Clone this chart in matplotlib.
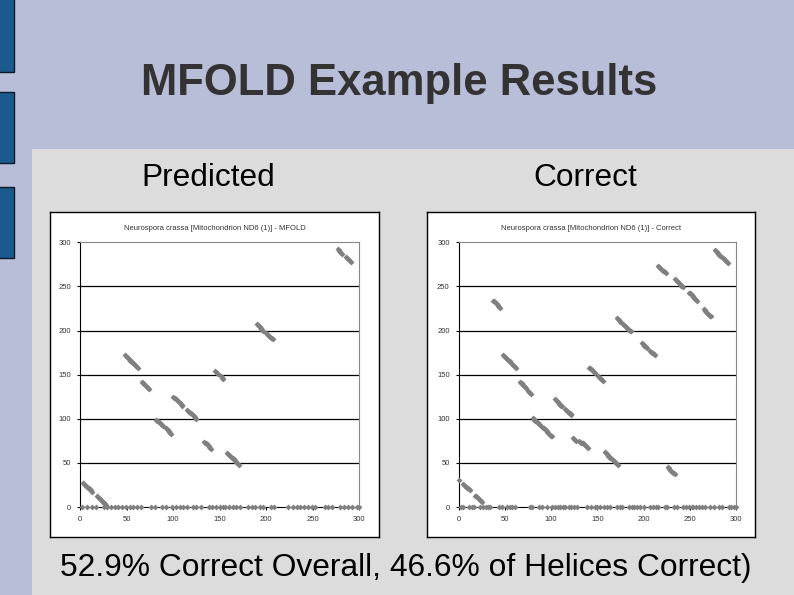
import matplotlib
matplotlib.use("Agg")
import matplotlib.pyplot as plt
from matplotlib.patches import Rectangle

plt.rcParams['font.family'] = ['Liberation Sans', 'DejaVu Sans']

W = 794
H = 595

# ---- data (position -> paired position) ----
pred_x = [3, 4, 5, 6, 7, 8, 9, 10, 11, 12, 13,
          18, 19, 20, 21, 22, 23, 24, 25, 26, 27, 28,
          48, 49, 50, 51, 52, 53, 54, 55, 56, 57, 58, 59, 60, 61, 62,
          66, 67, 68, 69, 70, 71, 72, 73, 74,
          82, 83, 84, 85, 86, 87, 88, 89,
          92, 93, 94, 95, 96, 97, 98,
          100, 101, 102, 103, 104, 105, 106, 107, 108, 109, 110,
          115, 116, 117, 118, 119, 120, 121, 122, 123, 124, 125,
          133, 134, 135, 136, 137, 138, 139, 140, 141,
          145, 146, 147, 148,
          151, 152, 153, 154,
          158, 159, 160, 161, 162, 163, 164, 165, 166, 167, 168, 169, 170, 171,
          190, 191, 192, 193, 194, 195, 196, 197,
          200, 201, 202, 203, 204, 205, 206, 207,
          277, 278, 279, 280, 281, 282,
          286, 287, 288, 289, 290, 291]
pred_y = [27, 26, 25, 24, 23, 22, 21, 20, 19, 18, 17,
          12, 11, 10, 9, 8, 7, 6, 5, 4, 3, 2,
          172, 171, 170, 169, 168, 167, 166, 165, 164, 163, 162, 161, 160, 159, 158,
          142, 141, 140, 139, 138, 137, 136, 135, 134,
          99, 98, 97, 96, 95, 94, 93, 92,
          89, 88, 87, 86, 85, 84, 83,
          125, 124, 123, 122, 121, 120, 119, 118, 117, 116, 115,
          110, 109, 108, 107, 106, 105, 104, 103, 102, 101, 100,
          74, 73, 72, 71, 70, 69, 68, 67, 66,
          154, 153, 152, 151,
          148, 147, 146, 145,
          61, 60, 59, 58, 57, 56, 55, 54, 53, 52, 51, 50, 49, 48,
          207, 206, 205, 204, 203, 202, 201, 200,
          197, 196, 195, 194, 193, 192, 191, 190,
          292, 291, 290, 289, 288, 287,
          283, 282, 281, 280, 279, 278]
pred_zero = [2, 7, 13, 17, 25, 29, 33, 37, 41, 45, 49, 53, 57, 61, 65, 76, 80,
             88, 92, 99, 103, 107, 111, 115, 121, 125, 130, 138, 142, 146, 150,
             154, 156, 160, 164, 168, 172, 181, 185, 188, 193, 197, 205, 209,
             224, 229, 233, 236, 241, 245, 249, 253, 263, 267, 271, 280, 284,
             288, 292, 298, 300]

corr_x = [0,
          5, 6, 7, 8, 9, 10, 11, 12,
          18, 19, 20, 21, 22, 23, 24, 25,
          37, 38, 39, 40, 41, 42, 43, 44, 45,
          48, 49, 50, 51, 52, 53, 54, 55,
          57, 58, 59, 60, 61, 62,
          66, 67, 68, 69, 70, 71, 72, 73,
          75, 76, 77, 78,
          80, 81, 82, 83, 84, 85, 86, 87, 88, 89,
          91, 92, 93, 94, 95, 96, 97, 98, 99, 100, 101,
          104, 105, 106, 107, 108, 109, 110, 111, 112,
          115, 116, 117, 118, 119, 120, 121, 122,
          124, 125, 126, 127, 130, 131, 132, 133, 134, 135, 136, 137, 138, 139, 140,
          141, 142, 143, 144, 145, 146, 147,
          151, 152, 153, 154, 155, 156,
          158, 159, 160, 161, 162, 163, 164, 165,
          167, 168, 169, 170, 171, 172,
          171, 172, 173, 174, 175,
          178, 179, 180, 181, 182, 183, 184, 185, 186,
          198, 199, 200, 201, 202, 203, 204,
          207, 208, 209, 210, 211, 212,
          216, 217, 218, 219, 220, 221, 222, 223, 224,
          226, 227, 228, 229, 230, 231, 232, 233, 234,
          234, 235, 236, 237, 238, 239, 240, 241, 242, 243,
          249, 250, 251, 252, 253, 254, 255, 256, 257, 258,
          265, 266, 267, 268, 269, 270, 271, 272, 273,
          277, 278, 279, 280, 281, 282, 283,
          285, 286, 287, 288, 289, 290, 291]
corr_y = [31,
          26, 25, 24, 23, 22, 21, 20, 19,
          13, 12, 11, 10, 9, 8, 7, 6,
          234, 233, 232, 231, 230, 229, 228, 227, 226,
          172, 171, 170, 169, 168, 167, 166, 165,
          163, 162, 161, 160, 159, 158,
          142, 141, 140, 139, 138, 137, 136, 135,
          131, 130, 129, 128,
          101, 100, 99, 98, 97, 96, 95, 94, 93, 92,
          90, 89, 88, 87, 86, 85, 84, 83, 82, 81, 80,
          122, 121, 120, 119, 118, 117, 116, 115, 114,
          111, 110, 109, 108, 107, 106, 105, 104,
          78, 77, 76, 75, 75, 74, 73, 73, 72, 72, 71, 70, 69, 68, 67,
          158, 157, 156, 155, 154, 153, 152,
          148, 147, 146, 145, 144, 143,
          62, 61, 60, 59, 58, 57, 56, 55,
          53, 52, 51, 50, 49, 48,
          214, 213, 212, 211, 210,
          207, 206, 205, 204, 203, 202, 201, 200, 199,
          186, 185, 184, 183, 182, 181, 180,
          177, 176, 175, 174, 173, 172,
          273, 272, 271, 270, 269, 268, 267, 266, 265,
          45, 44, 43, 42, 41, 40, 39, 38, 37,
          258, 257, 256, 255, 254, 253, 252, 251, 250, 249,
          243, 242, 241, 240, 239, 238, 237, 236, 235, 234,
          224, 223, 222, 221, 220, 219, 218, 217, 216,
          291, 290, 289, 288, 287, 286, 285,
          283, 282, 281, 280, 279, 278, 277]
corr_zero = [2, 5, 11, 14, 17, 23, 26, 29, 32, 34, 44, 47, 52, 55, 58, 61, 77,
             79, 87, 90, 96, 101, 104, 107, 110, 113, 115, 119, 122, 125, 128,
             139, 143, 147, 150, 153, 157, 160, 164, 171, 175, 177, 184, 187,
             190, 193, 196, 200, 207, 210, 213, 216, 223, 225, 233, 236, 243,
             246, 249, 252, 254, 257, 260, 263, 267, 272, 276, 282, 285, 292,
             295, 298, 300]

ticks = [0, 50, 100, 150, 200, 250, 300]


def px_axes(fig, x0, y0, x1, y1):
    # pixel box (top-left origin) -> figure axes
    return fig.add_axes([x0 / W, 1 - y1 / H, (x1 - x0) / W, (y1 - y0) / H])


def dotPlot(fig, box, area, title, xs, ys, zeros):
    bx = px_axes(fig, *box)
    bx.set_zorder(5)
    bx.set_xticks([])
    bx.set_yticks([])
    bx.set_facecolor('white')
    for s in bx.spines.values():
        s.set_color('black')
        s.set_linewidth(1)

    ax = px_axes(fig, *area)
    ax.set_zorder(6)
    ax.set_facecolor('white')
    ax.set_xlim(0, 300)
    ax.set_ylim(0, 300)
    ax.set_xticks(ticks)
    ax.set_yticks(ticks)
    ax.set_xticklabels([str(t) for t in ticks])
    ax.set_yticklabels([str(t) for t in ticks])
    ax.tick_params(labelsize=5.5, labelcolor='#333333', length=2.5, width=0.8,
                   direction='out', pad=4)
    for g in ticks[1:-1]:
        ax.axhline(g, color='black', lw=0.9, zorder=1)
    ax.spines['left'].set_color('black')
    ax.spines['bottom'].set_color('black')
    ax.spines['top'].set_color('#888888')
    ax.spines['right'].set_color('#888888')

    ax.plot(xs, ys, 'D', ms=3.0, color='#808080', mec='none', clip_on=False, zorder=3)
    ax.plot(zeros, [0] * len(zeros), 'D', ms=3.0, color='#808080', mec='none',
            clip_on=False, zorder=3)

    cx = (box[0] + box[2]) / 2
    t = fig.text(cx / W, 1 - 228 / H, title, ha='center', va='center',
                 fontsize=5.5, color='#333333')
    t.set_zorder(10)


fig = plt.figure(figsize=(7.94, 5.95), dpi=100)
fig.patch.set_facecolor('#b8bdd8')

# slide decorations
fig.patches.append(Rectangle((32 / W, 0), (W - 32) / W, 1 - 149 / H,
                             transform=fig.transFigure, facecolor='#dcdcdc',
                             edgecolor='none', zorder=0))
for top, bot in [(-2, 72), (92, 163), (187, 258)]:
    fig.patches.append(Rectangle((-2 / W, 1 - bot / H), 16 / W, (bot - top) / H,
                                 transform=fig.transFigure, facecolor='#1b5a8c',
                                 edgecolor='#0a1a2a', lw=1, zorder=1))

fig.text(399 / W, 1 - 84 / H, 'MFOLD Example Results', ha='center', va='center',
         fontsize=31.4, fontweight='bold', color='#333333')
fig.text(208 / W, 1 - 178 / H, 'Predicted', ha='center', va='center',
         fontsize=22.8, color='black')
fig.text(585 / W, 1 - 178 / H, 'Correct', ha='center', va='center',
         fontsize=22.8, color='black')
fig.text(406 / W, 1 - 568 / H, '52.9% Correct Overall, 46.6% of Helices Correct)',
         ha='center', va='center', fontsize=22.9, color='black')

dotPlot(fig, (50, 212, 379, 537), (80.3, 242.3, 359, 507),
        'Neurospora crassa [Mitochondrion ND6 (1)] - MFOLD', pred_x, pred_y, pred_zero)
dotPlot(fig, (427, 212, 755, 537), (458.7, 242.3, 736, 507),
        'Neurospora crassa [Mitochondrion ND6 (1)] - Correct', corr_x, corr_y, corr_zero)

plt.savefig('out.png', dpi=100, facecolor=fig.get_facecolor())
